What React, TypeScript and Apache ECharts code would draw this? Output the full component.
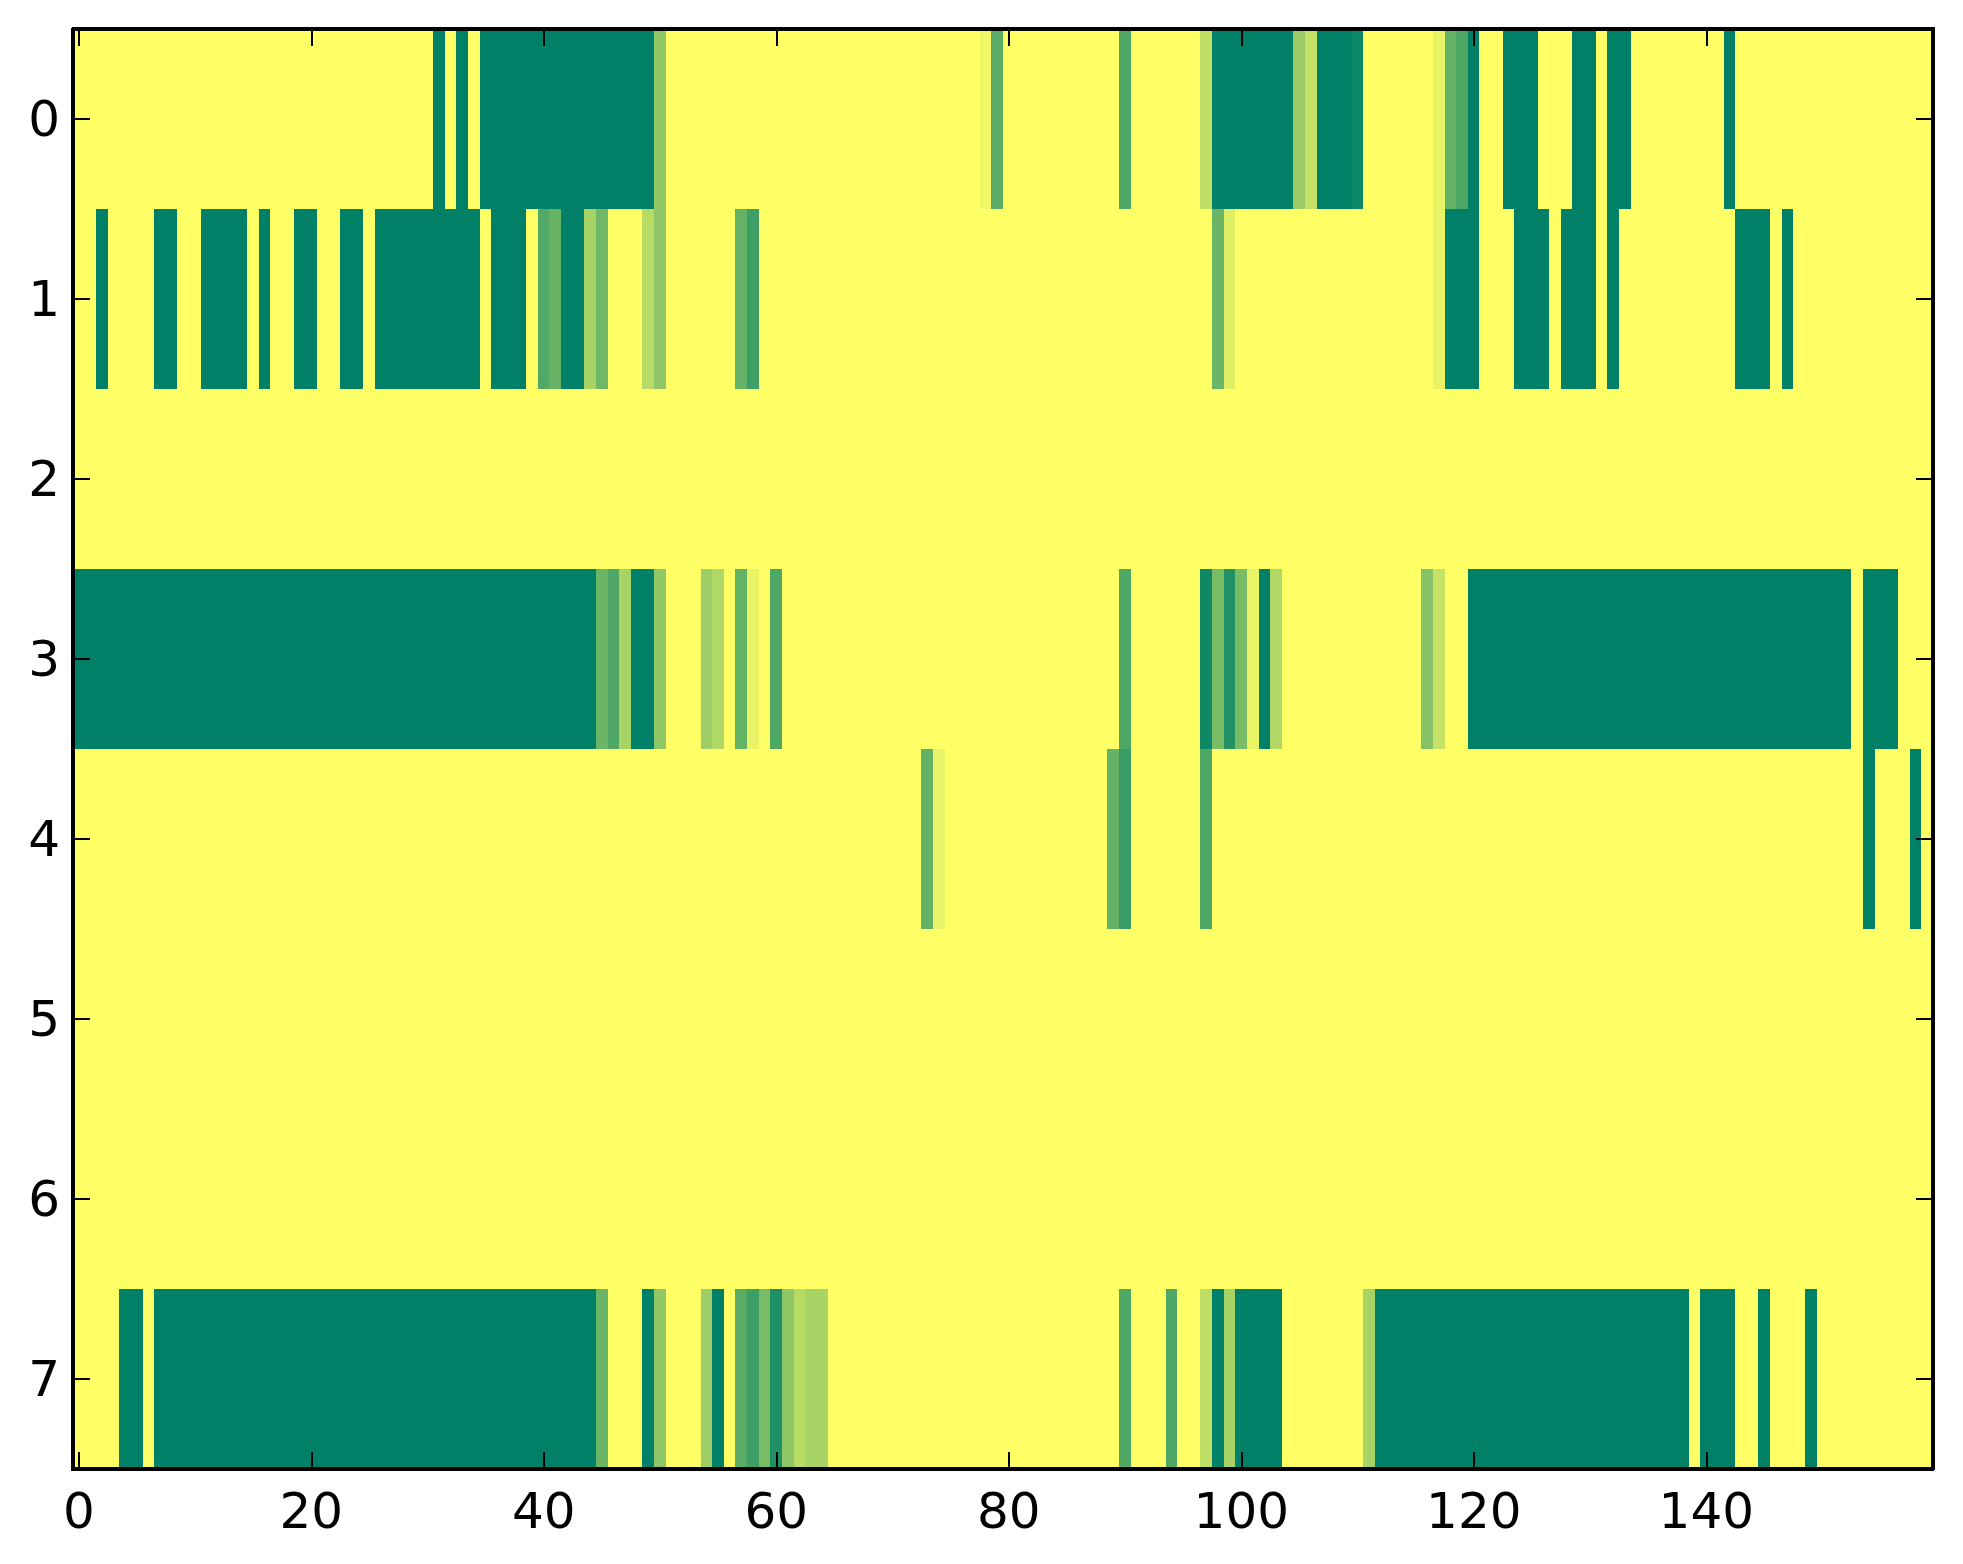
import React, { useEffect, useRef } from "react";
import * as echarts from "echarts";

// ---- data (runs of [startCol, endCol, value]; unlisted cells = 0) ----
const NUM_COLS = 160;
const xCategories: string[] = Array.from({ length: NUM_COLS }, (_, i) => String(i));
const yCategories: string[] = ["0", "1", "2", "3", "4", "5", "6", "7"];
const xTickLabels: string[] = ["0", "20", "40", "60", "80", "100", "120", "140"];

const row0Runs: [number, number, number][] = [
  [31, 31, 1], [33, 33, 1], [35, 49, 1], [50, 50, 0.44],
  [78, 78, 0.06], [79, 79, 0.65], [90, 90, 0.69],
  [97, 97, 0.25], [98, 104, 1], [105, 105, 0.4], [106, 106, 0.24], [107, 109, 1], [110, 110, 0.95],
  [117, 117, 0.09], [118, 118, 0.61], [119, 119, 0.69], [120, 120, 1],
  [123, 125, 1], [129, 130, 1], [132, 133, 1], [142, 142, 1],
];
const row1Runs: [number, number, number][] = [
  [2, 2, 1], [7, 8, 1], [11, 14, 1], [16, 16, 1], [19, 20, 1], [23, 24, 1], [26, 34, 1],
  [36, 38, 1], [40, 40, 0.68], [41, 41, 0.6], [42, 43, 1], [44, 44, 0.34], [45, 45, 0.56],
  [49, 49, 0.28], [50, 50, 0.44], [57, 57, 0.61], [58, 58, 0.76],
  [98, 98, 0.58], [99, 99, 0.12],
  [117, 117, 0.09], [118, 120, 1], [124, 126, 1], [128, 130, 1], [132, 132, 1],
  [143, 145, 1], [147, 147, 1],
];
const row2Runs: [number, number, number][] = [];
const row3Runs: [number, number, number][] = [
  [0, 44, 1], [45, 45, 0.58], [46, 46, 0.69], [47, 47, 0.34], [48, 49, 1], [50, 50, 0.44],
  [54, 54, 0.39], [55, 55, 0.31], [57, 57, 0.61], [58, 58, 0.09], [60, 60, 0.69],
  [90, 90, 0.69], [97, 97, 0.94], [98, 98, 0.53], [99, 99, 0.87], [100, 100, 0.53],
  [101, 101, 0.09], [102, 102, 1], [103, 103, 0.31],
  [116, 116, 0.47], [117, 117, 0.22], [120, 152, 1], [154, 156, 1],
];
const row4Runs: [number, number, number][] = [
  [73, 73, 0.61], [74, 74, 0.09], [89, 89, 0.61], [90, 90, 0.77], [97, 97, 0.69],
  [154, 154, 1], [158, 158, 1],
];
const row5Runs: [number, number, number][] = [];
const row6Runs: [number, number, number][] = [];
const row7Runs: [number, number, number][] = [
  [4, 5, 1], [7, 44, 1], [45, 45, 0.58], [49, 49, 1], [50, 50, 0.44],
  [54, 54, 0.39], [55, 55, 1], [57, 57, 0.65], [58, 58, 0.76], [59, 59, 0.53],
  [60, 60, 0.88], [61, 61, 0.44], [62, 62, 0.28], [63, 64, 0.34],
  [90, 90, 0.69], [94, 94, 0.69], [97, 97, 0.25], [98, 98, 1], [99, 99, 0.34], [100, 103, 1],
  [111, 111, 0.34], [112, 138, 1], [140, 142, 1], [145, 145, 1], [149, 149, 1],
];

const allRows = [row0Runs, row1Runs, row2Runs, row3Runs, row4Runs, row5Runs, row6Runs, row7Runs];

function buildCells(): [number, number, number][] {
  const cells: [number, number, number][] = [];
  allRows.forEach((runs, r) => {
    for (let c = 0; c < NUM_COLS; c++) {
      let v = 0;
      for (const [s, e, val] of runs) {
        if (c >= s && c <= e) v = val;
      }
      cells.push([c, r, v]);
    }
  });
  return cells;
}

const FONT = "DejaVu Sans";

export default function App() {
  const ref = useRef<HTMLDivElement>(null);
  useEffect(() => {
    if (!ref.current) return;
    const chart = echarts.init(ref.current, undefined, { renderer: "svg" });
    const isTick = (_i: number, v: string) => xTickLabels.includes(v);
    const axisLine = { show: true, onZero: false, lineStyle: { color: "#000", width: 4 } };
    const tickStyle = { color: "#000", width: 2 };
    const xBase = {
      type: "category" as const,
      data: xCategories,
      boundaryGap: true,
      z: 10,
      axisLine,
      splitLine: { show: false },
      axisTick: { show: true, inside: true, length: 17, alignWithLabel: true, interval: isTick, lineStyle: tickStyle },
    };
    const yBase = {
      type: "category" as const,
      data: yCategories,
      inverse: true,
      boundaryGap: true,
      z: 10,
      axisLine,
      splitLine: { show: false },
      axisTick: { show: true, inside: true, length: 17, alignWithLabel: true, interval: 0, lineStyle: tickStyle },
    };
    chart.setOption({
      animation: false,
      backgroundColor: "#fff",
      grid: { left: 73, top: 29, width: 1860, height: 1440, containLabel: false },
      xAxis: [
        {
          ...xBase,
          position: "bottom",
          axisLabel: { show: true, interval: isTick, fontSize: 50, fontFamily: FONT, color: "#000", margin: 17 },
        },
        { ...xBase, position: "top", axisLabel: { show: false } },
      ],
      yAxis: [
        {
          ...yBase,
          position: "left",
          axisLabel: { show: true, interval: 0, fontSize: 50, fontFamily: FONT, color: "#000", margin: 13 },
        },
        { ...yBase, position: "right", axisLabel: { show: false } },
      ],
      visualMap: {
        type: "continuous",
        min: 0,
        max: 1,
        show: false,
        seriesIndex: 0,
        inRange: { color: ["#ffff66", "#008066"] },
      },
      series: [
        {
          type: "heatmap",
          xAxisIndex: 0,
          yAxisIndex: 0,
          data: buildCells(),
          progressive: 0,
          emphasis: { disabled: true },
          itemStyle: { borderWidth: 0 },
        },
      ],
    });
    return () => chart.dispose();
  }, []);
  return (
    <>
      <style>{"#heat-chart svg path { shape-rendering: crispEdges; }"}</style>
      <div
        id="heat-chart"
        ref={ref}
        style={{ position: "absolute", left: 0, top: 0, width: 1963, height: 1564, background: "#fff" }}
      />
    </>
  );
}
